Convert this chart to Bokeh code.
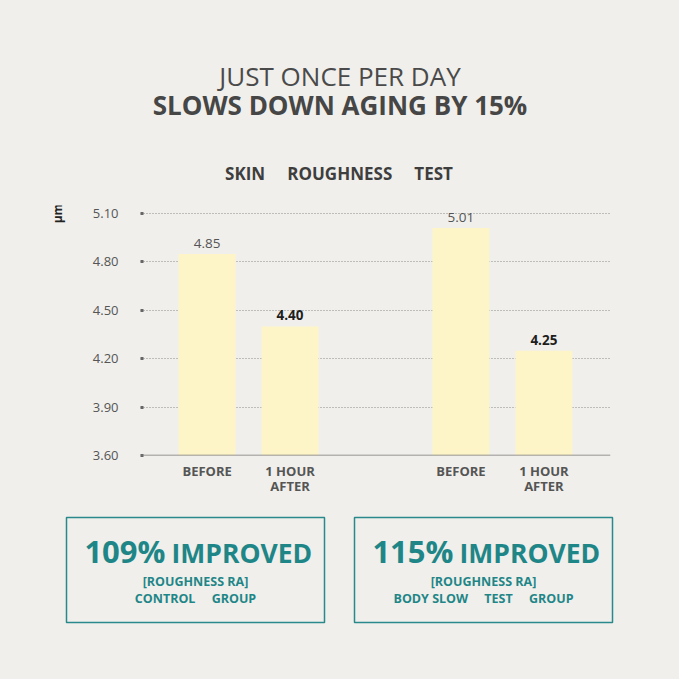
from bokeh.plotting import figure
from bokeh.models import FactorRange, Range1d, FixedTicker, Span
from bokeh.models import CustomJSTickFormatter
from bokeh.layouts import column, row
from bokeh.embed import file_html
from bokeh.resources import INLINE
from bokeh.core.properties import value
import math

# ---- data ----
groups = ["CONTROL", "TEST"]
phases = ["BEFORE", "1 HOUR\nAFTER"]
control_values = [4.85, 4.40]
test_values = [5.01, 4.25]
y_ticks = [3.60, 3.90, 4.20, 4.50, 4.80, 5.10]
NB = "\u00a0"
title_line1 = "JUST ONCE PER DAY"
title_line2 = "SLOWS DOWN AGING BY 15%"
subtitle = "SKIN" + NB * 5 + "ROUGHNESS" + NB * 5 + "TEST"
unit_label = "µm"
improved_pct = ["109%", "115%"]
improved_word = "IMPROVED"
box_line1 = ["[ROUGHNESS RA]", "[ROUGHNESS RA]"]
box_line2 = ["CONTROL" + NB * 5 + "GROUP",
             "BODY SLOW" + NB * 5 + "TEST" + NB * 5 + "GROUP"]

FONT = "Open Sans"
BG = "#f0efeb"
TEAL = "#1f8688"
W = 679

factors = [(g, ph) for g in groups for ph in phases]
values = control_values + test_values
before_f = [f for f in factors if f[1] == phases[0]]
before_v = [v for f, v in zip(factors, values) if f[1] == phases[0]]
after_f = [f for f in factors if f[1] == phases[1]]
after_v = [v for f, v in zip(factors, values) if f[1] == phases[1]]


def style(fig):
    fig.outline_line_color = None
    fig.background_fill_color = BG
    fig.border_fill_color = BG
    fig.grid.visible = False


def txt(fig, x, y, text, size, bold=True, color="#444444", align="center", angle=0.0):
    fig.text(x=x, y=y, text=text, angle=angle, text_font=value(FONT),
             text_font_size=size, text_font_style="bold" if bold else "normal",
             text_color=color, text_align=align, text_baseline="middle")


# ---- top titles (page rows 0..190) ----
top = figure(width=W, height=190, x_range=Range1d(0, W), y_range=Range1d(190, 0),
             x_axis_type=None, y_axis_type=None, output_backend="svg",
             toolbar_location=None, min_border=0)
style(top)
txt(top, [W / 2], [75], [title_line1], "26px", bold=False, color="#4a4a4a")
txt(top, [W / 2], [104], [title_line2], "26px", color="#464646")
txt(top, [W / 2 - 1], [173], [subtitle], "17px", color="#3e3e3e")

# ---- unit strip (page cols 0..80, rows 190..505) ----
strip = figure(width=80, height=315, x_range=Range1d(0, 80), y_range=Range1d(455, 205),
               x_axis_type=None, y_axis_type=None, output_backend="svg",
               toolbar_location=None, min_border_left=0, min_border_right=0,
               min_border_top=15, min_border_bottom=50)
style(strip)
txt(strip, [57], [213], [unit_label], "12px", color="#222222", angle=math.pi / 2)

# ---- chart (page cols 80..679, rows 190..505) ----
p = figure(width=W - 80, height=315,
           x_range=FactorRange(*factors, factor_padding=0.165, group_padding=1.4,
                               range_padding=0.152),
           y_range=Range1d(3.6, 5.15), output_backend="svg", toolbar_location=None,
           min_border_left=60, min_border_right=69, min_border_top=15,
           min_border_bottom=50)
p.outline_line_color = None
p.background_fill_color = BG
p.border_fill_color = BG

p.vbar(x=factors, top=values, bottom=3.6, width=0.8, fill_color="#fdf5c8",
       line_color=None)

p.text(x=before_f, y=before_v, text=[f"{v:.2f}" for v in before_v],
       text_font=value(FONT), text_font_size="13.5px", text_color="#555555",
       text_align="center", text_baseline="bottom", y_offset=-6)
p.text(x=after_f, y=after_v, text=[f"{v:.2f}" for v in after_v],
       text_font=value(FONT), text_font_size="13.5px", text_font_style="bold",
       text_color="#1e1e1e", text_align="center", text_baseline="bottom", y_offset=-6)

p.xgrid.visible = False
p.ygrid.grid_line_color = "#8a8a8a"
p.ygrid.grid_line_dash = "1 2"
p.ygrid.grid_line_width = 1
p.yaxis.ticker = FixedTicker(ticks=y_ticks)
p.yaxis.formatter = CustomJSTickFormatter(code="return tick.toFixed(2)")
p.yaxis.axis_line_color = None
p.yaxis.major_tick_in = 3
p.yaxis.major_tick_out = 0
p.yaxis.major_tick_line_width = 3
p.yaxis.major_tick_line_color = "#666666"
p.yaxis.minor_tick_line_color = None
p.yaxis.major_label_standoff = 22
p.yaxis.major_label_text_font = FONT
p.yaxis.major_label_text_font_size = "13px"
p.yaxis.major_label_text_color = "#555555"

p.xaxis.axis_line_color = None
p.xaxis.major_tick_line_color = None
p.xaxis.minor_tick_line_color = None
p.xaxis.major_label_standoff = 0
p.xaxis.major_label_text_font = FONT
p.xaxis.major_label_text_font_size = "13px"
p.xaxis.major_label_text_font_style = "bold"
p.xaxis.major_label_text_color = "#555555"
p.xaxis.major_label_text_line_height = 0.85
p.xaxis.group_text_font_size = "1px"
p.xaxis.group_text_alpha = 0
p.xaxis.separator_line_color = None

p.add_layout(Span(location=3.6, dimension="width", line_color="#777777",
                  line_width=1.5))

# ---- bottom boxes (page rows 505..679) ----
bot = figure(width=W, height=174, x_range=Range1d(0, W), y_range=Range1d(679, 505),
             x_axis_type=None, y_axis_type=None, output_backend="svg",
             toolbar_location=None, min_border=0)
style(bot)
box_left = [66, 354]
box_right = [324, 612]
centers = [(a + b) / 2 for a, b in zip(box_left, box_right)]
bot.quad(left=box_left, right=box_right, top=[517, 517], bottom=[622, 622],
         fill_color=None, line_color="#2a8a8b", line_width=1.5)
txt(bot, [c - 30 for c in centers], [550, 550], improved_pct, "31px", color=TEAL,
    align="right")
txt(bot, [c - 24 for c in centers], [552, 552], [improved_word] * 2, "26.5px",
    color=TEAL, align="left")
txt(bot, centers, [581, 581], box_line1, "12.5px", color=TEAL)
txt(bot, centers, [598, 598], box_line2, "12.5px", color=TEAL)

mid = row(strip, p, styles={"background-color": BG})
layout = column(top, mid, bot, styles={"background-color": BG})
open("out.html", "w").write(file_html(layout, INLINE))
